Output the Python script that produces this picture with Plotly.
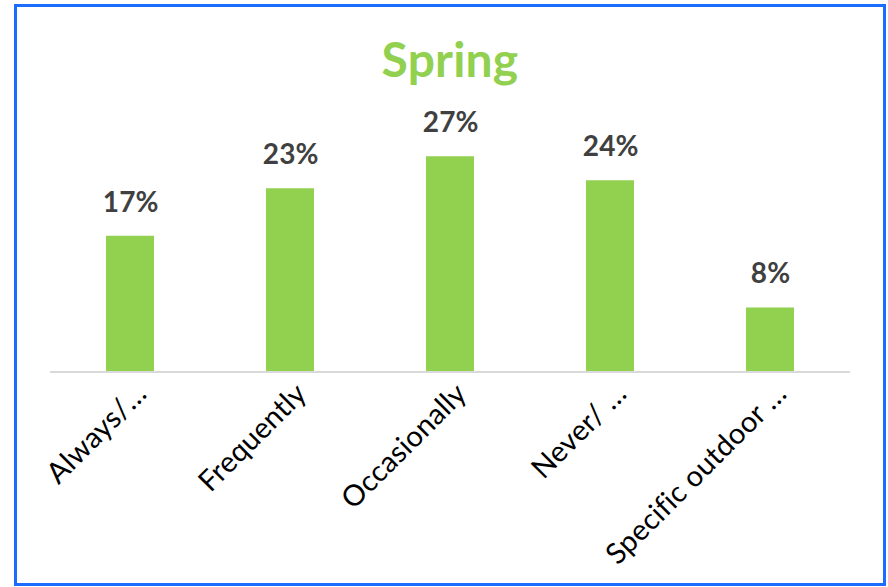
import plotly.graph_objects as go

categories = ["Always/…", "Frequently", "Occasionally", "Never/ …", "Specific outdoor …"]
values = [0.17, 0.23, 0.27, 0.24, 0.08]
labels = ["17%", "23%", "27%", "24%", "8%"]
title_text = "Spring"

GREEN = "#92D050"
FONT = "Lato"

fig = go.Figure()
fig.add_trace(go.Bar(
    x=categories, y=values,
    marker=dict(color=GREEN, line=dict(width=0)),
    width=0.3,
    hoverinfo="skip",
))

for c, v, t in zip(categories, values, labels):
    fig.add_annotation(
        x=c, y=v, text=f"<b>{t}</b>", showarrow=False,
        yanchor="bottom", xanchor="center", yshift=16,
        font=dict(family=FONT, size=28, color="#404040"),
    )

L, R, T, B = 50, 38, 133, 216
W, H = 888, 587
pw, ph = W - L - R, H - T - B

def px_x(p):
    return (p - L) / pw

def px_y(p):
    return (H - B - p) / ph

fig.add_shape(type="rect", xref="paper", yref="paper",
              x0=px_x(15.5), x1=px_x(884.5), y0=px_y(584.5), y1=px_y(5.5),
              line=dict(color="#1A6DFF", width=3), fillcolor="rgba(0,0,0,0)", layer="above")

fig.update_layout(
    width=W, height=H,
    margin=dict(l=L, r=R, t=T, b=B, autoexpand=False),
    paper_bgcolor="white", plot_bgcolor="white",
    showlegend=False,
    title=dict(text=f"<b>{title_text}</b>", x=0.5, xanchor="center", xref="paper",
               y=1 - 60 / H, yanchor="middle",
               font=dict(family=FONT, size=48, color=GREEN)),
    xaxis=dict(
        tickangle=-45, showgrid=False, zeroline=False,
        showline=True, linecolor="#D9D9D9", linewidth=2,
        ticks="", tickfont=dict(family=FONT, size=29, color="#000000"),
        ticklabelshift=8, ticklabelstandoff=-8,
    ),
    yaxis=dict(visible=False, range=[0, ph / 795.0], showgrid=False, zeroline=False),
)

post = (
    "document.body.style.margin='0';document.body.style.overflow='hidden';"
    "var s=document.createElement('style');"
    "s.textContent='text{font-variant-ligatures:none !important;"
    "font-feature-settings:\"liga\" 0, \"clig\" 0 !important;letter-spacing:0.2px;}';"
    "document.head.appendChild(s);"
)
fig.write_html("out.html", post_script=post, config={"displayModeBar": False})
